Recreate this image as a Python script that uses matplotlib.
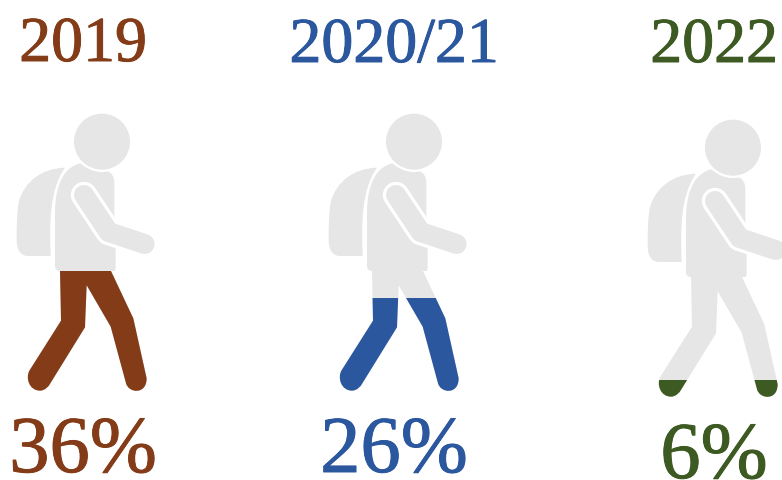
import matplotlib
matplotlib.use('Agg')
import matplotlib.pyplot as plt
import matplotlib.patheffects as pe
from matplotlib.path import Path
from matplotlib.patches import PathPatch, Circle, Rectangle

years = ['2019', '2020/21', '2022']
percents = [36, 26, 6]
# how far up the figure the colour reaches (not the same as the percent)
fill_levels = [0.434, 0.336, 0.064]
colors = ['#843C18', '#2B579E', '#3C5A22']
grey = '#E6E6E6'

# where each hiker sits, pixels relative to the first one
offsets_x = [0, 312, 631]
offsets_y = [0, 0, 6]
label_x = [83, 394, 714]
year_y = [61, 62, 62]
pct_y = [472, 472, 478]

# icon outline, traced in units of 1/3 pixel with y going down
feet_y = 875
head_top = 41

M, L, C, Z = Path.MOVETO, Path.LINETO, Path.CURVE4, Path.CLOSEPOLY

pack_pts = [(195,203), (125,205), (75,245), (58,300), (50,330), (50,380), (50,420),
            (50,450), (62,468), (85,468), (152,468), (148,370), (148,270), (195,203), (195,203)]
pack_codes = [M, C, C, C, C, C, C, C, C, C, L, C, C, C, Z]

torso_pts = [(240,190), (200,200), (165,240), (165,340), (165,500), (165,505), (170,513),
             (178,513), (342,513), (349,513), (349,505), (343,340), (343,250),
             (343,232), (338,224), (328,216), (240,190)]
torso_codes = [M, C, C, C, L, C, C, C, L, C, C, L, L, C, C, C, Z]

legs_pts = [(180,513), (183,662), (88,812), (76,835), (88,872), (120,872), (136,872), (146,858),
            (148,855), (255,682), (260,556), (332,680), (378,850), (386,880), (440,885), (440,835),
            (400,655), (333,513), (180,513)]
legs_codes = [M, L, L, C, C, C, C, C, L, L, L, L, L, C, C, C, L, L, Z]

arm_x = [252, 326, 434]
arm_y = [285, 396, 432]


def draw_hiker(ax, dx, dy, color):
	def place(pts):
		return [(x/3+dx, y/3+100+dy) for x, y in pts]

	ax.add_patch(PathPatch(Path(place(pack_pts), pack_codes), fc=color, ec='none'))
	ax.add_patch(PathPatch(Path(place(legs_pts), legs_codes), fc=color, ec='none'))
	ax.add_patch(PathPatch(Path(place(torso_pts), torso_codes), fc=color, ec='none'))

	# white ring round the head, white edge round the arm
	xs = [x/3+dx for x in arm_x]
	ys = [y/3+100+dy for y in arm_y]
	ax.add_patch(Circle(place([(306,125)])[0], 91/3, fc='white', ec='none', zorder=3))
	ax.plot(xs, ys, color='white', lw=19.0, solid_capstyle='round', solid_joinstyle='round', zorder=3)
	ax.plot(xs, ys, color=color, lw=14.4, solid_capstyle='round', solid_joinstyle='round', zorder=4)
	ax.add_patch(Circle(place([(306,125)])[0], 84/3, fc=color, ec='none', zorder=5))


fig = plt.figure(figsize=(7.82, 4.8), dpi=100)
ax = fig.add_axes([0, 0, 1, 1])
ax.set_xlim(0, 782)
ax.set_ylim(480, 0)
ax.axis('off')

for i in range(len(years)):
	dx, dy = offsets_x[i], offsets_y[i]
	draw_hiker(ax, dx, dy, grey)

	# colour comes up from the feet, only the legs get it so the upper part stays grey
	bottom = feet_y/3+100+dy
	height = (feet_y-head_top)/3
	top = bottom-fill_levels[i]*height
	clip = Rectangle((dx-10, top), 220, bottom-top+5, transform=ax.transData)
	legs = PathPatch(Path([(x/3+dx, y/3+100+dy) for x, y in legs_pts], legs_codes), fc=colors[i], ec='none', zorder=2)
	ax.add_patch(legs)
	legs.set_clip_path(clip)

	# thin stroke because the serif here is lighter than the original one
	heavier = [pe.withStroke(linewidth=0.7, foreground=colors[i])]
	ax.text(label_x[i], year_y[i], years[i], color=colors[i], family='Liberation Serif',
		fontsize=46, ha='center', va='baseline', path_effects=heavier)
	ax.text(label_x[i], pct_y[i], str(percents[i])+'%', color=colors[i], family='Liberation Serif',
		fontsize=58, ha='center', va='baseline', path_effects=heavier)

fig.savefig('out.png', dpi=100)
